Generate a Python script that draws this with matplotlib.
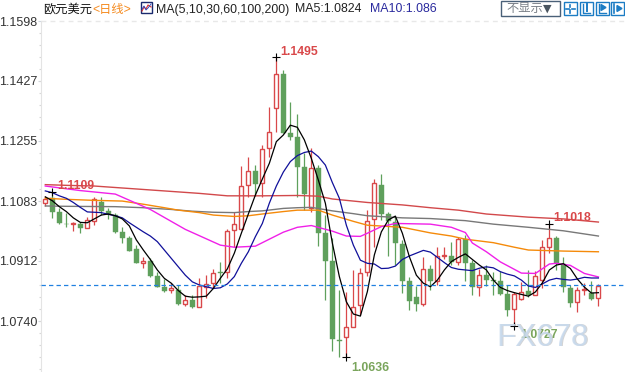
# -*- coding: utf-8 -*-
"""
EUR/USD daily candles with moving averages
values read off the screenshot
"""

import matplotlib
matplotlib.use("Agg")
import matplotlib.pyplot as plt
from matplotlib.patches import Rectangle
from matplotlib.ticker import FixedLocator, NullFormatter

plt.rcParams['font.family'] = ['Liberation Sans', 'Noto Sans CJK SC', 'DejaVu Sans']

opens = [1.1078, 1.1091, 1.1052, 1.1018, 1.1016, 1.1017, 1.1007, 1.1027, 1.1080, 1.1054,
         1.1043, 1.0994, 1.0976, 1.0946, 1.0907, 1.0912, 1.0869, 1.0837, 1.0830, 1.0830,
         1.0789, 1.0800, 1.0781, 1.0838, 1.0849, 1.0880, 1.0879, 1.0999, 1.1004, 1.1130,
         1.1169, 1.1134, 1.1236, 1.1350, 1.1446, 1.1278, 1.1266, 1.1180, 1.1063, 1.1178,
         1.0991, 1.0912, 1.0686, 1.0693, 1.0722, 1.0785, 1.0879, 1.1031, 1.1129, 1.1045,
         1.1024, 1.0960, 1.0853, 1.0809, 1.0789, 1.0889, 1.0855, 1.0926, 1.0926, 1.0910,
         1.0974, 1.0905, 1.0836, 1.0872, 1.0857, 1.0854, 1.0817, 1.0773, 1.0802, 1.0825,
         1.0815, 1.0857, 1.0952, 1.0977, 1.0903, 1.0833, 1.0793, 1.0830, 1.0819, 1.0805]
closes = [1.1088, 1.1053, 1.1021, 1.1016, 1.1019, 1.1006, 1.1028, 1.1088, 1.1055, 1.1046,
          1.0995, 1.0977, 1.0940, 1.0906, 1.0911, 1.0869, 1.0838, 1.0827, 1.0833, 1.0789,
          1.0799, 1.0780, 1.0840, 1.0847, 1.0876, 1.0877, 1.0996, 1.1018, 1.1127, 1.1168,
          1.1132, 1.1231, 1.1280, 1.1446, 1.1278, 1.1267, 1.1181, 1.1104, 1.1177, 1.0992,
          1.0912, 1.0688, 1.0684, 1.0722, 1.0781, 1.0876, 1.1027, 1.1135, 1.1046, 1.1027,
          1.0962, 1.0855, 1.0798, 1.0789, 1.0888, 1.0855, 1.0926, 1.0930, 1.0909, 1.0974,
          1.0907, 1.0836, 1.0871, 1.0857, 1.0855, 1.0817, 1.0771, 1.0816, 1.0824, 1.0813,
          1.0868, 1.0951, 1.0976, 1.0905, 1.0836, 1.0792, 1.0829, 1.0832, 1.0803, 1.0839]
highs = [1.1097, 1.1109, 1.1063, 1.1049, 1.1024, 1.1024, 1.1037, 1.1095, 1.1095, 1.1064,
         1.1049, 1.1010, 1.0983, 1.0957, 1.0922, 1.0919, 1.0881, 1.0859, 1.0848, 1.0843,
         1.0814, 1.0814, 1.0862, 1.0872, 1.0890, 1.0909, 1.1002, 1.1051, 1.1183, 1.1208,
         1.1186, 1.1243, 1.1353, 1.1495, 1.1458, 1.1367, 1.1332, 1.1220, 1.1235, 1.1186,
         1.1043, 1.0977, 1.0829, 1.0824, 1.0886, 1.0891, 1.1057, 1.1146, 1.1160, 1.1053,
         1.1038, 1.0972, 1.0865, 1.0839, 1.0922, 1.0900, 1.0951, 1.0951, 1.0965, 1.0981,
         1.0986, 1.0914, 1.0888, 1.0900, 1.0881, 1.0883, 1.0843, 1.0824, 1.0852, 1.0886,
         1.0884, 1.0972, 1.1018, 1.0983, 1.0922, 1.0843, 1.0837, 1.0848, 1.0854, 1.0846]
lows = [1.1069, 1.1035, 1.1017, 1.1010, 1.0998, 1.0992, 1.1006, 1.1015, 1.1043, 1.1032,
        1.0992, 1.0964, 1.0940, 1.0906, 1.0892, 1.0867, 1.0836, 1.0824, 1.0821, 1.0786,
        1.0783, 1.0777, 1.0781, 1.0806, 1.0834, 1.0848, 1.0863, 1.0952, 1.1002, 1.1095,
        1.1097, 1.1095, 1.1210, 1.1281, 1.1278, 1.1258, 1.1095, 1.1057, 1.1052, 1.0954,
        1.0800, 1.0654, 1.0638, 1.0636, 1.0722, 1.0757, 1.0869, 1.0952, 1.1029, 1.0926,
        1.0900, 1.0821, 1.0771, 1.0769, 1.0784, 1.0829, 1.0843, 1.0916, 1.0900, 1.0900,
        1.0855, 1.0814, 1.0811, 1.0840, 1.0814, 1.0814, 1.0754, 1.0727, 1.0800, 1.0809,
        1.0814, 1.0833, 1.0935, 1.0886, 1.0824, 1.0781, 1.0766, 1.0814, 1.0800, 1.0783]

ma5 = [1.1095, 1.1084, 1.1067, 1.1053, 1.1035, 1.1022, 1.1021, 1.1032, 1.1043, 1.1046,
       1.1041, 1.1032, 1.1012, 1.0972, 1.0943, 1.0916, 1.0886, 1.0862, 1.0848, 1.0827,
       1.0811, 1.0808, 1.0809, 1.0811, 1.0833, 1.0862, 1.0889, 1.0934, 1.0991, 1.1046,
       1.1100, 1.1146, 1.1191, 1.1253, 1.1272, 1.1300, 1.1294, 1.1258, 1.1205, 1.1143,
       1.1077, 1.0963, 1.0867, 1.0795, 1.0760, 1.0754, 1.0824, 1.0929, 1.0995, 1.1029,
       1.1040, 1.0991, 1.0924, 1.0871, 1.0848, 1.0838, 1.0857, 1.0886, 1.0910, 1.0922,
       1.0932, 1.0916, 1.0900, 1.0886, 1.0857, 1.0836, 1.0827, 1.0821, 1.0816, 1.0811,
       1.0823, 1.0849, 1.0886, 1.0900, 1.0904, 1.0890, 1.0860, 1.0837, 1.0820, 1.0821]
ma10 = [1.1112, 1.1107, 1.1098, 1.1091, 1.1079, 1.1065, 1.1052, 1.1051, 1.1050, 1.1045,
        1.1041, 1.1035, 1.1021, 1.1008, 1.0995, 1.0983, 1.0967, 1.0943, 1.0919, 1.0895,
        1.0871, 1.0852, 1.0843, 1.0838, 1.0833, 1.0835, 1.0846, 1.0867, 1.0905, 1.0938,
        1.0981, 1.1019, 1.1077, 1.1126, 1.1166, 1.1196, 1.1213, 1.1222, 1.1226, 1.1210,
        1.1186, 1.1136, 1.1091, 1.1014, 1.0957, 1.0914, 1.0905, 1.0903, 1.0890, 1.0891,
        1.0897, 1.0916, 1.0926, 1.0934, 1.0942, 1.0937, 1.0922, 1.0907, 1.0893, 1.0888,
        1.0886, 1.0884, 1.0891, 1.0895, 1.0892, 1.0881, 1.0874, 1.0869, 1.0857, 1.0840,
        1.0836, 1.0846, 1.0857, 1.0862, 1.0859, 1.0857, 1.0860, 1.0865, 1.0863, 1.0863]

# slower averages are smooth, read every few candles
ma30_idx = [0, 5, 10, 15, 20, 25, 27, 30, 32, 34, 36, 38, 41, 43, 45, 46, 48, 50, 55, 58, 60,
            61, 63, 65, 68, 70, 72, 73, 75, 77, 79]
ma30 = [1.1126, 1.1113, 1.1103, 1.1059, 1.1002, 1.0957, 1.0951, 1.0954, 1.0974, 1.0994, 1.1008,
        1.1013, 1.0997, 1.0983, 1.0982, 1.0991, 1.1010, 1.1019, 1.1017, 1.1008, 1.0993,
        1.0963, 1.0938, 1.0909, 1.0877, 1.0876, 1.0903, 1.0905, 1.0899, 1.0876, 1.0866]
ma60_idx = [0, 3, 7, 11, 14, 17, 19, 22, 24, 27, 29, 31, 34, 36, 39, 41, 44, 46, 51, 53, 55, 58,
            60, 64, 67, 69, 74, 79]
ma60 = [1.1091, 1.1088, 1.1085, 1.1083, 1.1074, 1.1064, 1.1057, 1.1050, 1.1043, 1.1039, 1.1041,
        1.1046, 1.1053, 1.1057, 1.1057, 1.1043, 1.1025, 1.1014, 1.1008, 1.1000, 1.0992, 1.0983,
        1.0974, 1.0964, 1.0951, 1.0943, 1.0940, 1.0938]
ma100_idx = [0, 3, 10, 14, 18, 21, 24, 27, 29, 31, 34, 36, 38, 41, 44, 46, 51, 55, 60, 64, 69, 74, 79]
ma100 = [1.1069, 1.1068, 1.1067, 1.1064, 1.1059, 1.1054, 1.1051, 1.1050, 1.1053, 1.1055, 1.1062,
         1.1064, 1.1065, 1.1055, 1.1047, 1.1041, 1.1035, 1.1033, 1.1027, 1.1017, 1.1008, 1.0998, 1.0983]
ma200_idx = [0, 3, 7, 12, 17, 22, 26, 31, 36, 39, 41, 46, 51, 55, 59, 63, 69, 74, 79]
ma200 = [1.1130, 1.1128, 1.1126, 1.1119, 1.1112, 1.1105, 1.1098, 1.1098, 1.1099, 1.1097, 1.1089,
         1.1079, 1.1072, 1.1064, 1.1057, 1.1046, 1.1037, 1.1032, 1.1023]

y_ticks = [1.1598, 1.1427, 1.1255, 1.1083, 1.0912, 1.0740]
last_price = 1.0842

RED = "#d9484a"
GREEN = "#5fa05c"

fig = plt.figure(figsize=(6.25, 3.72), dpi=100)
ax = fig.add_axes([41 / 625, 1 / 372, 584 / 625, 350 / 372])
ax.set_xlim(-0.614, 82.8)
ax.set_ylim(1.0597, 1.1598)

for i in range(len(opens)):
    up = closes[i] >= opens[i]
    col = RED if up else GREEN
    ax.vlines(i, lows[i], highs[i], color=col, lw=0.9, zorder=2)
    bottom = min(opens[i], closes[i])
    height = abs(closes[i] - opens[i])
    if up:
        ax.bar(i, height, bottom=bottom, width=0.6, facecolor="white", edgecolor=col, lw=1.0, zorder=3)
    else:
        ax.bar(i, height, bottom=bottom, width=0.68, facecolor=col, edgecolor=col, lw=0.3, zorder=3)

ax.plot(ma200_idx, ma200, color="#d2494b", lw=1.0, zorder=4)
ax.plot(ma100_idx, ma100, color="#787878", lw=1.0, zorder=4)
ax.plot(ma60_idx, ma60, color="#f58a0a", lw=1.0, zorder=4)
ax.plot(ma30_idx, ma30, color="#f020e8", lw=1.0, zorder=4)
ax.plot(range(len(ma10)), ma10, color="#10109a", lw=0.9, zorder=5)
ax.plot(range(len(ma5)), ma5, color="black", lw=0.9, zorder=5)

ax.axhline(last_price, color="#2080e0", lw=0.9, ls=(0, (3.5, 2.5)), zorder=6)
ax.axhline(y_ticks[0], color="#e8e8e8", lw=1.0, ls=(0, (3.5, 3)), clip_on=False, zorder=1)

# marked highs and lows, label offsets in points
marks = [(1, highs[1], 3.7, 0, RED), (33, highs[33], 3, -1, RED), (72, highs[72], 2.5, 0, RED),
         (43, lows[43], 3.5, -7.5, "#7aa55c"), (67, lows[67], 4, -6.5, "#7aa55c")]
for i, price, dx, dy, col in marks:
    ax.plot(i, price, marker="+", color="black", ms=5.5, mew=0.8, zorder=7)
    ax.annotate("%.4f" % price, (i, price), xytext=(dx, dy), textcoords="offset points",
                color=col, fontsize=8.8, fontweight="bold", va="bottom" if dy >= -1 else "center",
                zorder=7)

for s in ("top", "right", "bottom"):
    ax.spines[s].set_visible(False)
ax.spines["left"].set_color("#e4e4e4")
ax.set_xticks([])
ax.yaxis.set_major_locator(FixedLocator(y_ticks))
ax.set_yticklabels(["%.4f" % v for v in y_ticks])
ax.yaxis.set_minor_locator(FixedLocator([1.1598 - k * 0.00343 for k in range(30)]))
ax.yaxis.set_minor_formatter(NullFormatter())
ax.tick_params(axis="y", which="major", length=2.2, width=0.8, color="#cfd8e0", labelsize=9,
               labelcolor="#333333", pad=0.5)
ax.tick_params(axis="y", which="minor", length=1.2, width=0.8, color="#d8d8d8")

# header, buttons and watermark sit on a pixel sized overlay
top = fig.add_axes([0, 0, 1, 1], facecolor="none")
top.set_xlim(0, 625)
top.set_ylim(372, 0)
top.axis("off")

top.text(43, 9.5, "欧元美元", fontsize=8.8, color="#111111", va="center")
top.text(92, 9.5, "<日线>", fontsize=8.8, color="#f58a1e", va="center")
top.text(156, 9.5, "MA(5,10,30,60,100,200)", fontsize=8.9, color="#222222", va="center")
top.text(295, 9.5, "MA5:1.0824", fontsize=8.9, color="#222222", va="center")
top.text(370, 9.5, "MA10:1.086", fontsize=8.9, color="#2a2a9e", va="center")

top.add_patch(Rectangle((141, 2), 10.5, 11, facecolor="white", edgecolor="#1a2a6e", lw=1.0))
top.plot([142, 144, 146, 148, 151], [11, 7, 9, 5, 7], color="#d83030", lw=0.8)
top.plot([142, 144, 146, 148, 151], [9, 6, 10, 8, 4], color="#2040c0", lw=0.6)

top.add_patch(Rectangle((500.5, 1), 59, 14.5, facecolor="white", edgecolor="#4a6078", lw=1.0))
top.text(506, 9, "不显示", fontsize=8.8, color="#7a8088", va="center")
top.text(543, 8.5, "▼", fontsize=8, color="#4a5560", va="center", family="DejaVu Sans")

BLUE = "#1c7cc4"
for left in (563.5, 579.5, 595.5, 611):
    top.add_patch(Rectangle((left, 2), 13, 13, facecolor="white", edgecolor=BLUE, lw=1.0))
top.plot([570, 570], [4.5, 7], color=BLUE, lw=1.2)
top.plot([570, 570], [10, 13], color=BLUE, lw=1.2)
top.plot([565.5, 568.5], [8.5, 8.5], color=BLUE, lw=1.2)
top.plot([571.5, 574.5], [8.5, 8.5], color=BLUE, lw=1.2)
top.plot([583, 583, 590], [4, 12.5, 12.5], color=BLUE, lw=1.0)
top.plot([587, 587], [4, 11], color=BLUE, lw=1.4)
top.plot([599, 599, 606], [4, 12.5, 12.5], color=BLUE, lw=1.0)
top.fill([601, 601, 606], [4.5, 10.5, 7.5], color=BLUE)
top.plot([614, 614], [4, 13], color=BLUE, lw=1.2)
top.fill([617, 617, 622], [5.5, 11.5, 8.5], color=BLUE)

# watermark, soft shadow under a pale face
top.text(497.5, 338.5, "FX678", fontsize=22.5, color="#a0a0a0", alpha=0.45, va="center")
top.text(496.5, 337.5, "FX678", fontsize=22.5, color="#c8daee", alpha=0.85, va="center")

fig.savefig("out.png", dpi=100)
